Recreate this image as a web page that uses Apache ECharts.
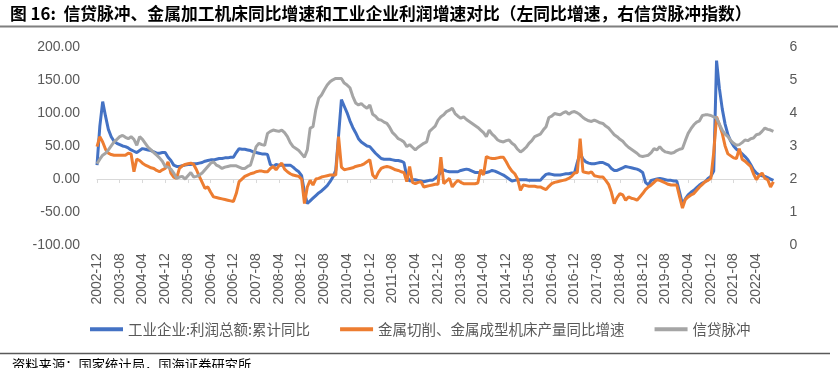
<!DOCTYPE html>
<html><head><meta charset="utf-8">
<script src="https://cdn.jsdelivr.net/npm/echarts@6/dist/echarts.min.js"></script>
<style>html,body{margin:0;padding:0;background:#fff}#c{width:838px;height:368px}</style>
</head><body><div id="c"></div>
<script>
// Monthly categories from 2002-12 to 2022-10
const startYear = 2002, startMonth = 12, monthCount = 239;
const categories = [];
for (let i = 0; i < monthCount; i++) {
  const t = (startYear * 12 + startMonth - 1) + i;
  const y = Math.floor(t / 12), m = t % 12 + 1;
  categories.push(y + '-' + (m < 10 ? '0' + m : m));
}

// 工业企业:利润总额:累计同比 (%), left axis
const profitYoY = [
  21, 80, 117, 95, 75, 64, 57, 54, 52, 50, 49, 47,
  44, 42, 40, 43, 46, 45, 44, 43, 41, 39, 39, 40,
  40, 33, 28, 21, 19, 19, 20, 21, 22, 22, 23, 23,
  24, 25, 27, 28, 29, 29, 30, 31, 31, 32, 32, 33,
  33, 40, 46, 45, 45, 44, 43, 41, 40, 39, 38, 38,
  37, 22, 19, 22, 21, 21, 21, 21, 21, 18, 14, 11,
  5, -20, -37, -33, -29, -25, -21, -18, -14, -10, -4, 3,
  13, 66, 120, 110, 100, 88, 78, 70, 61, 56, 53, 50,
  49, 44, 39, 35, 31, 30, 30, 30, 29, 28, 28, 27,
  25, 4, -3, -1, -1, -2, -3, -4, -3, -2, -2, 1,
  5, 10, 14, 12, 11, 11, 11, 11, 13, 14, 15, 14,
  12, 10, 10, 9, 9, 10, 11, 13, 12, 10, 8, 6,
  3, 0, -3, -2, -1, -1, -1, -1, -2, -2, -2, -2,
  -2, 3, 7, 8, 7, 6, 6, 6, 7, 8, 8, 9,
  9, 25, 39, 30, 26, 24, 23, 23, 24, 25, 25, 23,
  21, 16, 13, 13, 15, 17, 19, 18, 17, 16, 15, 13,
  10, -5, -9, -2, -1, 0, 1, 0, -1, -2, -2, -3,
  -3, -20, -38, -30, -24, -20, -17, -13, -9, -6, -4, 1,
  4, 12, 179, 137, 106, 83, 67, 57, 50, 45, 42, 38,
  34, 29, 22, 14, 9, 6, 5, 4, 2, 0, -2
];

// 金属切削、金属成型机床产量同比增速 (%), left axis
const machineToolYoY = [
  49, 64, 56, 45, 39, 37, 36, 36, 36, 36, 36, 39,
  38, 11, 30, 28, 24, 21, 19, 17, 16, 13, 11, 14,
  16, 26, 9, 3, 1, 16, 20, 22, 23, 24, 22, 14,
  4, -5, -14, -12, -20, -27, -28, -29, -30, -31, -32, -33,
  -34, -22, -4, 0, 4, 6, 8, 9, 11, 12, 12, 11,
  11, 16, 19, 14, 20, 24, 15, 11, 8, 6, 5, 4,
  0, -37, -12, -2, -9, 0, 1, 3, 4, 5, 6, 6,
  6, 64, 18, 14, 15, 16, 17, 19, 20, 21, 23, 26,
  29, 6, 1, 10, 16, 18, 19, 18, 16, 14, 13, 11,
  10, -4, 19, -5, -7, -5, -4, -12, -11, -10, -9, -8,
  -8, 33, -7, -3, 1, -12, -6, -2, -5, -7, -7, -7,
  -7, -7, -6, 14, 6, 34, 32, 31, 31, 32, 33, 33,
  26, 18, 12, 8, 0, -17, -9, -10, -11, -11, -11, -12,
  -12, -14, -16, -11, -7, -5, -4, -3, -2, -1, 1, 4,
  9, 10, 61, 11, 10, 9, 11, 5, 4, 3, 3, -2,
  -8, -20, -37, -28, -22, -24, -32, -27, -29, -30, -32, -27,
  -22, -16, -12, -9, -5, -1, -2, -4, -6, -8, -9, -9,
  -9, -27, -44, -31, -27, -24, -22, -17, -12, -8, -4, -2,
  1, 40, 94, 82, 69, 50, 38, 35, 32, 31, 46, 30,
  27, 23, 19, 8, -1, 5, 9, 1, -1, -12, -4
];

// 信贷脉冲 (index), right axis
const creditImpulse = [
  2.46, 2.60, 2.72, 2.78, 2.88, 3.00, 3.12, 3.20, 3.28, 3.32, 3.26, 3.22,
  3.28, 3.20, 3.02, 3.28, 3.20, 3.08, 2.96, 2.88, 2.80, 2.72, 2.64, 2.54,
  2.38, 2.36, 2.30, 2.18, 2.02, 2.06, 2.08, 2.00, 2.10, 2.20, 2.06, 2.08,
  2.12, 2.18, 2.28, 2.38, 2.48, 2.52, 2.42, 2.38, 2.32, 2.36, 2.38, 2.40,
  2.40, 2.40, 2.36, 2.32, 2.32, 2.38, 2.42, 2.70, 2.98, 3.08, 3.04, 3.02,
  3.38, 3.44, 3.48, 3.46, 3.44, 3.48, 3.40, 3.28, 3.10, 2.98, 2.92, 2.86,
  2.76, 2.66, 2.88, 3.54, 3.58, 4.10, 4.44, 4.54, 4.70, 4.84, 4.94, 5.00,
  5.04, 5.04, 5.04, 4.90, 4.84, 4.76, 4.50, 4.30, 4.24, 4.28, 4.20, 4.14,
  4.24, 3.96, 3.90, 3.80, 3.78, 3.72, 3.68, 3.56, 3.40, 3.32, 3.22, 3.18,
  3.12, 2.98, 3.04, 2.96, 2.88, 2.96, 3.02, 3.08, 3.12, 3.44, 3.52, 3.60,
  3.78, 3.88, 3.94, 4.04, 4.08, 4.14, 3.98, 3.90, 3.84, 3.88, 3.80, 3.74,
  3.68, 3.62, 3.56, 3.48, 3.40, 3.28, 3.48, 3.36, 3.28, 3.18, 3.14, 3.12,
  3.16, 3.18, 3.08, 3.02, 2.90, 2.82, 2.88, 2.96, 3.08, 3.16, 3.28, 3.32,
  3.36, 3.48, 3.58, 3.86, 3.90, 3.98, 3.96, 3.94, 4.00, 4.04, 3.96, 4.02,
  4.04, 4.00, 3.94, 3.86, 3.80, 3.76, 3.74, 3.78, 3.74, 3.70, 3.68, 3.60,
  3.54, 3.44, 3.34, 3.28, 3.20, 3.14, 3.04, 2.96, 2.90, 2.84, 2.78, 2.70,
  2.68, 2.70, 2.72, 2.80, 2.92, 2.88, 2.98, 2.88, 2.82, 2.80, 2.78, 2.80,
  2.86, 2.90, 2.92, 3.16, 3.38, 3.52, 3.64, 3.72, 3.76, 3.92, 3.94, 3.94,
  3.92, 3.88, 3.84, 3.66, 3.48, 3.36, 3.28, 3.16, 3.08, 3.02, 3.04, 3.10,
  3.18, 3.16, 3.22, 3.24, 3.34, 3.36, 3.44, 3.54, 3.50, 3.48, 3.44
];

const seriesNames = ['工业企业:利润总额:累计同比', '金属切削、金属成型机床产量同比增速', '信贷脉冲'];
const seriesColors = ['#4472C4', '#ED7D31', '#A5A5A5'];
const titleText = '图 16:  信贷脉冲、金属加工机床同比增速和工业企业利润增速对比（左同比增速，右信贷脉冲指数）';
const sourceText = '资料来源：国家统计局，国海证券研究所';

const labelFont = 'Liberation Sans, Arial, sans-serif';
const cjkFont = 'Noto Sans CJK SC, sans-serif';

const chart = echarts.init(document.getElementById('c'), null, {renderer: 'canvas'});
chart.setOption({
  animation: false,
  backgroundColor: '#fff',
  title: {
    text: titleText, left: 10, top: 5, padding: 0,
    textStyle: {fontSize: 16.8, fontWeight: 'bold', color: '#000', fontFamily: cjkFont}
  },
  legend: {
    left: 90, top: 322, padding: 0, itemWidth: 33, itemHeight: 4, itemGap: 30, icon: 'rect',
    textStyle: {fontSize: 14.5, color: '#595959', fontFamily: cjkFont},
    data: seriesNames
  },
  grid: {left: 97, right: 64.6, top: 46.7, bottom: 122.8, containLabel: false, outerBoundsMode: 'none'},
  xAxis: [
    {
      type: 'category', data: categories, boundaryGap: false, position: 'bottom',
      axisLine: {show: false, onZero: false},
      axisTick: {show: false},
      splitLine: {show: false},
      axisLabel: {interval: 7, rotate: 90, margin: 8, fontSize: 14, color: '#595959', fontFamily: labelFont}
    },
    {
      type: 'category', data: categories, boundaryGap: false, position: 'bottom',
      axisLine: {show: true, onZero: true, onZeroAxisIndex: 0, lineStyle: {color: '#d9d9d9', width: 1}},
      axisTick: {show: true, interval: 7, length: 4, lineStyle: {color: '#d9d9d9'}},
      axisLabel: {show: false},
      splitLine: {show: false}
    }
  ],
  yAxis: [
    {
      type: 'value', min: -100, max: 200, interval: 50, position: 'left',
      axisLine: {show: false}, axisTick: {show: false}, splitLine: {show: false},
      axisLabel: {formatter: v => v.toFixed(2), fontSize: 14, color: '#595959', margin: 17, fontFamily: labelFont}
    },
    {
      type: 'value', min: 0, max: 6, interval: 1, position: 'right',
      axisLine: {show: false}, axisTick: {show: false}, splitLine: {show: false},
      axisLabel: {formatter: v => String(v), fontSize: 14, color: '#595959', margin: 16, fontFamily: labelFont}
    }
  ],
  series: [
    {name: seriesNames[0], type: 'line', data: profitYoY, xAxisIndex: 0, yAxisIndex: 0,
     showSymbol: false, lineStyle: {width: 3, color: seriesColors[0]}, itemStyle: {color: seriesColors[0]}, z: 2},
    {name: seriesNames[1], type: 'line', data: machineToolYoY, xAxisIndex: 0, yAxisIndex: 0,
     showSymbol: false, lineStyle: {width: 3, color: seriesColors[1]}, itemStyle: {color: seriesColors[1]}, z: 3},
    {name: seriesNames[2], type: 'line', data: creditImpulse, xAxisIndex: 0, yAxisIndex: 1,
     showSymbol: false, lineStyle: {width: 3, color: seriesColors[2]}, itemStyle: {color: seriesColors[2]}, z: 4}
  ],
  graphic: [
    {type: 'line', shape: {x1: 0, y1: 26.5, x2: 838, y2: 26.5}, style: {stroke: '#7f7f7f', lineWidth: 2}, silent: true},
    {type: 'line', shape: {x1: 0, y1: 353.5, x2: 830, y2: 353.5}, style: {stroke: '#595959', lineWidth: 1.5}, silent: true},
    {type: 'text', left: 12, top: 358, silent: true,
     style: {text: sourceText, fontSize: 13.3, fill: '#000', fontFamily: cjkFont}}
  ]
});
</script>
</body></html>
